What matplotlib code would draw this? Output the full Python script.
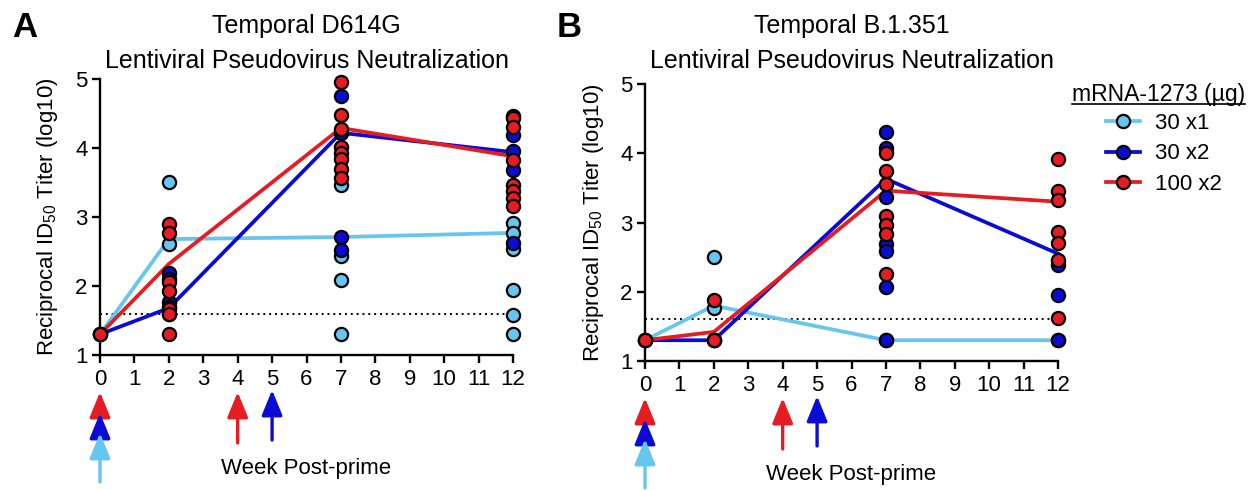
import matplotlib
matplotlib.use("Agg")
import matplotlib.pyplot as plt
from matplotlib.lines import Line2D


plt.rcParams['font.family'] = ['Liberation Sans', 'DejaVu Sans']
plt.rcParams['mathtext.default'] = 'regular'

#Sampling weeks shared by both panels
WEEKS = [0, 2, 7, 12]
#Limit of detection (log10)
LOD = 1.6

#Group names and colours
GROUPS = ['30 x1', '30 x2', '100 x2']
COLORS = ['#66c6ef', '#0b0bd6', '#e51c22']

#D614G titers per group, one list per week
d614g_30x1 = [[1.3], [3.51, 2.61], [3.47, 2.43, 2.09, 1.30],
              [2.91, 2.77, 2.53, 1.94, 1.58, 1.30]]
d614g_30x2 = [[1.3], [2.19, 2.10, 1.77, 1.70, 1.60], [4.76, 4.22, 2.71, 2.52],
              [4.47, 4.19, 3.96, 3.68, 2.63]]
d614g_100x2 = [[1.3], [2.90, 2.77, 2.06, 1.93, 1.66, 1.60, 1.30],
               [4.95, 4.48, 4.28, 4.02, 3.93, 3.84, 3.70, 3.57],
               [4.43, 4.31, 3.83, 3.46, 3.37, 3.27, 3.16]]
#Geometric mean titers (log10) for the connecting lines
d614g_gmt = [[1.3, 2.68, 2.71, 2.77],
             [1.3, 1.68, 4.22, 3.94],
             [1.3, 2.32, 4.29, 3.88]]

#B.1.351 titers per group, one list per week
b1351_30x1 = [[1.3], [2.50, 1.76, 1.30], [1.30], [1.30]]
b1351_30x2 = [[1.3], [1.30], [4.30, 4.07, 3.37, 2.69, 2.59, 2.07, 1.30],
              [2.38, 1.95, 1.30]]
b1351_100x2 = [[1.3], [1.88, 1.30], [4.00, 3.74, 3.55, 3.10, 2.97, 2.83, 2.25],
               [3.92, 3.46, 3.32, 2.87, 2.70, 2.46, 1.62]]
b1351_gmt = [[1.3, 1.80, 1.30, 1.30],
             [1.3, 1.30, 3.63, 2.55],
             [1.3, 1.42, 3.46, 3.30]]

#Dose weeks: prime for everyone, boost at week 4 (100 x2) and week 5 (30 x2)
BOOST_WEEKS = [4, 5]

FIG_W, FIG_H = 1250, 490


def px_below(ax, px):
  #axes fraction for a spot px pixels under the x axis
  return -px / (ax.get_position().height * FIG_H)


def draw_panel(ax, groups, gmts, letter, title):
  for gmt, color in zip(gmts, COLORS):
    ax.plot(WEEKS, gmt, color=color, lw=2.7, zorder=2, clip_on=False)
  for vals_by_week, color in zip(groups, COLORS):
    for wk, vals in zip(WEEKS, vals_by_week):
      ax.plot([wk] * len(vals), vals, 'o', ms=9.5, mfc=color, mec='black',
        mew=1.6, zorder=3, clip_on=False)

  ax.axhline(LOD, color='black', ls=(0, (1, 2)), lw=1.4, zorder=1)

  ax.set_xlim(0, 12)
  ax.set_ylim(1, 5)
  ax.set_xticks(range(0, 13))
  ax.set_yticks(range(1, 6))
  ax.spines['top'].set_visible(False)
  ax.spines['right'].set_visible(False)
  for s in ('left', 'bottom'):
    ax.spines[s].set_linewidth(1.7)
  ax.tick_params(width=1.7, length=6, labelsize=16)
  ax.tick_params(axis='x', pad=4)
  ax.tick_params(axis='y', pad=3)

  ax.set_ylabel('Reciprocal ID$_{50}$ Titer (log10)', fontsize=16, va='center')
  ax.yaxis.set_label_coords(-52 / 413, 0.5)
  ax.text(0.5, px_below(ax, 113), 'Week Post-prime', transform=ax.transAxes,
    ha='center', va='center', fontsize=16)

  #Title lines and panel letter, placed in figure pixels
  pos = ax.get_position()
  cx = pos.x0 + pos.width / 2
  fig = ax.figure
  fig.text(cx, 1 - 33 / FIG_H, title, ha='center', va='baseline', fontsize=18)
  fig.text(cx, 1 - 68 / FIG_H, 'Lentiviral Pseudovirus Neutralization',
    ha='center', va='baseline', fontsize=18)
  fig.text(pos.x0 - 88 / FIG_W, 1 - 37 / FIG_H, letter, ha='left',
    va='baseline', fontsize=25, fontweight='bold')

  #Dosing arrows under the x axis
  trans = ax.get_xaxis_transform()
  aprops = dict(arrowstyle='-|>,head_length=1.1,head_width=0.45',
    mutation_scale=14, lw=2.4, shrinkA=0, shrinkB=0)
  stack = [(COLORS[2], 58, 37), (COLORS[1], 78, 58), (COLORS[0], 127, 78)]
  for color, tail, tip in stack:
    ax.annotate('', xy=(0, px_below(ax, tip)), xycoords=trans,
      xytext=(0, px_below(ax, tail)), textcoords=trans,
      arrowprops=dict(aprops, color=color), annotation_clip=False)
  for wk, color, tail, tip in zip(BOOST_WEEKS, [COLORS[2], COLORS[1]],
                                   [88, 85], [37, 35]):
    ax.annotate('', xy=(wk, px_below(ax, tip)), xycoords=trans,
      xytext=(wk, px_below(ax, tail)), textcoords=trans,
      arrowprops=dict(aprops, color=color), annotation_clip=False)


if __name__ == "__main__":
  fig = plt.figure(figsize=(FIG_W / 100, FIG_H / 100), dpi=100)
  axA = fig.add_axes([100 / FIG_W, (FIG_H - 355) / FIG_H, 413 / FIG_W, 276 / FIG_H])
  axB = fig.add_axes([645 / FIG_W, (FIG_H - 361) / FIG_H, 413 / FIG_W, 277 / FIG_H])

  draw_panel(axA, [d614g_30x1, d614g_30x2, d614g_100x2], d614g_gmt,
    'A', 'Temporal D614G')
  draw_panel(axB, [b1351_30x1, b1351_30x2, b1351_100x2], b1351_gmt,
    'B', 'Temporal B.1.351')

  #Legend with an underlined heading
  handles = [Line2D([], [], color=c, lw=2.7, marker='o', ms=9.5, mfc=c,
    mec='black', mew=1.6) for c in COLORS]
  axB.legend(handles, GROUPS, loc='upper left', frameon=False, fontsize=16,
    bbox_to_anchor=(1106 / FIG_W, 1 - 113 / FIG_H),
    bbox_transform=fig.transFigure, handlelength=1.55, handletextpad=0.65,
    labelspacing=0.42, borderpad=0, borderaxespad=0)
  head = fig.text(1072 / FIG_W, 1 - 101 / FIG_H, 'mRNA-1273 (\u00b5g)',
    ha='left', va='baseline', fontsize=16.5)
  fig.canvas.draw()
  bb = head.get_window_extent().transformed(fig.transFigure.inverted())
  uy = 1 - 104 / FIG_H
  fig.add_artist(Line2D([bb.x0, bb.x1], [uy, uy], color='black', lw=1.2,
    transform=fig.transFigure))

  fig.savefig('out.png', dpi=100)
